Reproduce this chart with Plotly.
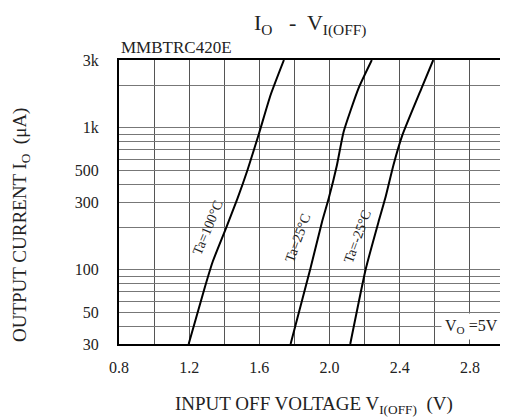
import math
import plotly.graph_objects as go

# Data (V_I(OFF) in volts, I_O in µA)
v_100 = [1.197, 1.286, 1.333, 1.409, 1.475, 1.532, 1.598, 1.664, 1.740]
i_100 = [30, 73, 113, 195, 317, 502, 912, 1700, 3000]

v_25 = [1.778, 1.891, 1.957, 1.995, 2.042, 2.080, 2.165, 2.241]
i_25 = [30, 102, 217, 317, 545, 935, 1895, 3000]

v_m25 = [2.118, 2.207, 2.279, 2.317, 2.364, 2.415, 2.524, 2.591]
i_m25 = [30, 102, 217, 317, 545, 887, 1895, 3000]

x_tick_vals = [0.8, 1.2, 1.6, 2.0, 2.4, 2.8]
x_tick_text = ["0.8", "1.2", "1.6", "2.0", "2.4", "2.8"]
x_grid_vals = [1.0, 1.4, 1.8, 2.2, 2.6]
y_tick_vals = [30, 50, 100, 300, 500, 1000, 3000]
y_tick_text = ["30", "50", "100", "300", "500", "1k", "3k"]
y_grid_vals = [40, 60, 70, 80, 90, 200, 400, 600, 700, 800, 900, 2000]

curve_labels = ["Ta=100°C", "Ta=25°C", "Ta=-25°C"]
label_x = [1.307, 1.820, 2.160]
label_y = [198, 169, 171]
label_angle = [-67, -70, -70]

FONT = "Liberation Serif"
TXT = "#222"

fig = go.Figure()
for vx, iy in [(v_100, i_100), (v_25, i_25), (v_m25, i_m25)]:
    fig.add_trace(go.Scatter(x=vx, y=iy, mode="lines",
                             line=dict(color="black", width=2, shape="spline", smoothing=0.5),
                             showlegend=False, hoverinfo="skip"))

for txt, lx, ly, ang in zip(curve_labels, label_x, label_y, label_angle):
    fig.add_annotation(x=lx, y=math.log10(ly), xref="x", yref="y", text=txt, showarrow=False,
                       textangle=ang, font=dict(family=FONT, size=14, color=TXT))

fig.add_annotation(x=2.81, y=math.log10(40), xref="x", yref="y", text="V<sub>O</sub> =5V",
                   showarrow=False, font=dict(family=FONT, size=16, color=TXT), bgcolor="white", borderpad=3)

# Titles
fig.add_annotation(x=0.495, y=1.0, xref="paper", yref="paper", yanchor="middle", yshift=36,
                   text="I<sub>O</sub>   -  V<sub>I(OFF)</sub>", showarrow=False,
                   font=dict(family=FONT, size=22, color=TXT))
fig.add_annotation(x=0.0, y=1.0, xref="paper", yref="paper", xanchor="left", yanchor="middle", yshift=13,
                   text="MMBTRC420E", showarrow=False, font=dict(family=FONT, size=17, color=TXT))
fig.add_annotation(x=0.505, y=0.0, xref="paper", yref="paper", yanchor="middle", yshift=-61,
                   text="INPUT OFF VOLTAGE V<sub>I(OFF)</sub>  (V)", showarrow=False,
                   font=dict(family=FONT, size=19, color=TXT))
fig.add_annotation(x=0.0, y=0.5, xref="paper", yref="paper", xanchor="center", yanchor="middle",
                   xshift=-98, yshift=-23, textangle=-90,
                   text="OUTPUT CURRENT I<sub>O</sub>  (μA)", showarrow=False,
                   font=dict(family=FONT, size=19, color=TXT))

fig.update_layout(
    width=500, height=411,
    margin=dict(l=111, r=1, t=52, b=75),
    paper_bgcolor="white", plot_bgcolor="white",
    font=dict(family=FONT, size=16, color=TXT),
    showlegend=False,
    xaxis=dict(range=[0.8, 3.0], tickvals=x_tick_vals, ticktext=x_tick_text, showgrid=True,
               gridcolor="#555", gridwidth=1.3, showline=True, mirror=True, linecolor="black", linewidth=2,
               ticks="", ticklabelstandoff=8, tickfont=dict(family=FONT, size=16, color=TXT),
               minor=dict(tickvals=x_grid_vals, showgrid=True, gridcolor="#555", gridwidth=1.3),
               zeroline=False),
    yaxis=dict(type="log", range=[math.log10(30), math.log10(3000)], tickvals=y_tick_vals,
               ticktext=y_tick_text, showgrid=True,
               gridcolor="#777", gridwidth=1.3, showline=True, mirror=True, linecolor="black", linewidth=2,
               ticks="", ticklabelstandoff=15, tickfont=dict(family=FONT, size=16, color=TXT),
               minor=dict(tickvals=y_grid_vals, showgrid=True, gridcolor="#777", gridwidth=1.3),
               zeroline=False),
)

fig.write_html("out.html")
